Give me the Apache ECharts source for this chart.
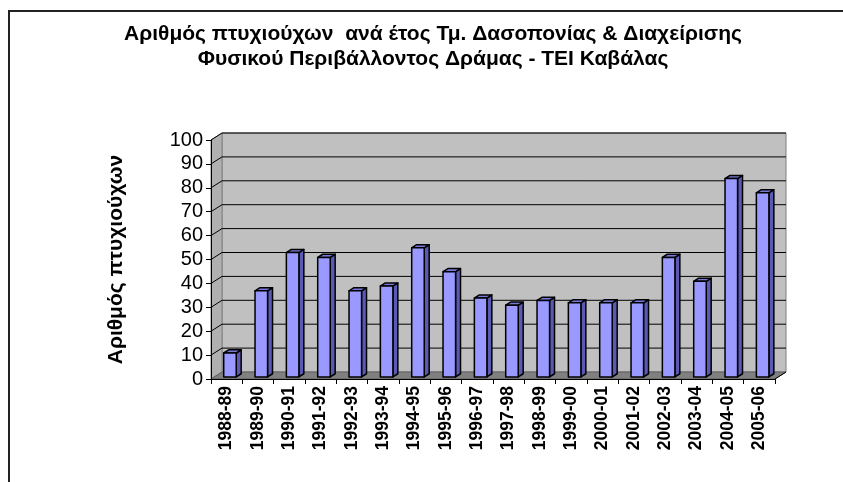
<!DOCTYPE html>
<html>
<head>
<meta charset="utf-8">
<script src="https://cdn.jsdelivr.net/npm/echarts@6/dist/echarts.min.js"></script>
<style>
  html, body { margin: 0; padding: 0; background: #fff; }
  #main { width: 843px; height: 482px; }
</style>
</head>
<body>
<div id="main"></div>
<script>
var years = ['1988-89','1989-90','1990-91','1991-92','1992-93','1993-94','1994-95','1995-96','1996-97',
             '1997-98','1998-99','1999-00','2000-01','2001-02','2002-03','2003-04','2004-05','2005-06'];
var graduates = [10, 36, 52, 50, 36, 38, 54, 44, 33, 30, 32, 31, 31, 31, 50, 40, 83, 77];
var gridValues = [10, 20, 30, 40, 50, 60, 70, 80, 90, 100];

// βάθος τρισδιάστατου
var DX = 11, DY = -7;

function renderWalls(params, api) {
    var cs = params.coordSys;
    var x0 = cs.x, x1 = cs.x + cs.width, y0 = cs.y, y1 = cs.y + cs.height;
    return {
        type: 'group',
        children: [
            { type: 'polygon', shape: { points: [[x0 + DX, y0 + DY], [x1 + DX, y0 + DY], [x1 + DX, y1 + DY], [x0 + DX, y1 + DY]] },
              style: { fill: '#c0c0c0', stroke: '#808080', lineWidth: 1 } },
            { type: 'polygon', shape: { points: [[x0, y1], [x0, y0], [x0 + DX, y0 + DY], [x0 + DX, y1 + DY]] },
              style: { fill: '#b0b0b0', stroke: '#808080', lineWidth: 1 } },
            { type: 'polygon', shape: { points: [[x0, y1], [x1, y1], [x1 + DX, y1 + DY], [x0 + DX, y1 + DY]] },
              style: { fill: '#808080', stroke: '#606060', lineWidth: 1 } },
            { type: 'line', shape: { x1: x1, y1: y1, x2: x1 + DX, y2: y1 + DY },
              style: { stroke: '#000', lineWidth: 1 } }
        ]
    };
}

function renderGrid(params, api) {
    var cs = params.coordSys;
    var y = api.coord([0, api.value(1)])[1];
    return {
        type: 'polyline',
        shape: { points: [[cs.x, y], [cs.x + DX, y + DY], [cs.x + cs.width + DX, y + DY]] },
        style: { stroke: '#000', lineWidth: 1, fill: null }
    };
}

function renderBar(params, api) {
    var base = api.coord([api.value(0), 0]);
    var top = api.coord([api.value(0), api.value(1)]);
    var w = api.size([1, 0])[0] * 0.4;
    var fx = DX * 0.3, fy = DY * 0.3;   // μπροστινή όψη
    var bx = DX * 0.75, by = DY * 0.75; // πίσω όψη
    var l = base[0] - w / 2 + fx, r = base[0] + w / 2 + fx;
    var t = top[1] + fy, b = base[1] + fy;
    var ox = bx - fx, oy = by - fy;
    var st = { stroke: '#000', lineWidth: 1.5, lineJoin: 'round' };
    return {
        type: 'group',
        children: [
            { type: 'polygon', shape: { points: [[r, t], [r + ox, t + oy], [r + ox, b + oy], [r, b]] },
              style: Object.assign({ fill: '#5a5ab4' }, st) },
            { type: 'polygon', shape: { points: [[l, t], [l + ox, t + oy], [r + ox, t + oy], [r, t]] },
              style: Object.assign({ fill: '#7878d8' }, st) },
            { type: 'rect', shape: { x: l, y: t, width: r - l, height: b - t },
              style: Object.assign({ fill: '#9999ff' }, st) }
        ]
    };
}

var myChart = echarts.init(document.getElementById('main'));
var option = {
    animation: false,
    backgroundColor: '#fff',
    title: {
        text: 'Αριθμός πτυχιούχων  ανά έτος Τμ. Δασοπονίας & Διαχείρισης\nΦυσικού Περιβάλλοντος Δράμας - ΤΕΙ Καβάλας',
        left: 428,
        top: 17,
        textAlign: 'center',
        textStyle: { fontFamily: 'Liberation Sans', fontSize: 21, fontWeight: 'bold', color: '#000', lineHeight: 25 }
    },
    graphic: [
        { type: 'rect', shape: { x: 9, y: 11, width: 1000, height: 1000 },
          style: { fill: null, stroke: '#222', lineWidth: 2 }, silent: true }
    ],
    grid: { left: 211, top: 140, width: 564, height: 239, containLabel: false },
    xAxis: {
        type: 'category',
        data: years,
        z: 10,
        axisLine: { lineStyle: { color: '#000', width: 1 } },
        axisTick: { show: true, length: 5, lineStyle: { color: '#000' } },
        axisLabel: { rotate: 90, margin: 7, interval: 0, fontFamily: 'Liberation Sans', fontSize: 17.5, fontWeight: 'bold', color: '#000' },
        splitLine: { show: false }
    },
    yAxis: {
        type: 'value',
        min: 0,
        max: 100,
        interval: 10,
        z: 10,
        name: 'Αριθμός πτυχιούχων',
        nameLocation: 'middle',
        nameRotate: 90,
        nameGap: 84,
        nameTextStyle: { fontFamily: 'Liberation Sans', fontSize: 21, fontWeight: 'bold', color: '#000' },
        axisLine: { show: true, lineStyle: { color: '#000', width: 1 } },
        axisTick: { show: true, length: 5, lineStyle: { color: '#000' } },
        axisLabel: { margin: 8, fontFamily: 'Liberation Sans', fontSize: 20, color: '#000' },
        splitLine: { show: false }
    },
    series: [
        { type: 'custom', z: 0, renderItem: renderWalls, data: [[0, 0]], silent: true },
        { type: 'custom', z: 1, renderItem: renderGrid, data: gridValues.map(function (v) { return [0, v]; }), silent: true },
        { type: 'custom', z: 3, renderItem: renderBar, data: graduates.map(function (v, i) { return [i, v]; }) }
    ]
};
myChart.setOption(option);
</script>
</body>
</html>
